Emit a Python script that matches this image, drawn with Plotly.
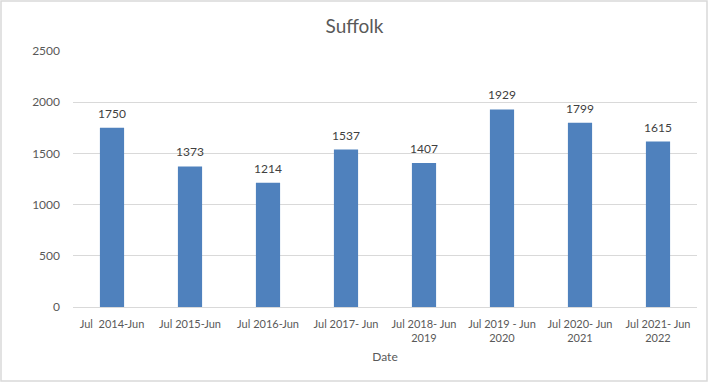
import plotly.graph_objects as go

categories = ["Jul  2014-Jun", "Jul 2015-Jun", "Jul 2016-Jun", "Jul 2017- Jun",
              "Jul 2018- Jun<br>2019", "Jul 2019 - Jun<br>2020", "Jul 2020- Jun<br>2021",
              "Jul 2021- Jun<br>2022"]
values = [1750, 1373, 1214, 1537, 1407, 1929, 1799, 1615]
y_ticks = [0, 500, 1000, 1500, 2000, 2500]

W, H = 709, 382
ml, mr, mt, mb = 73, 12, 51, 75

fig = go.Figure(go.Bar(
    x=categories, y=values,
    marker=dict(color="#4F81BD", line=dict(width=0)),
))

for c, v in zip(categories, values):
    fig.add_annotation(x=c, y=v, text=str(v), showarrow=False, yanchor="bottom",
                       yshift=5, font=dict(size=12, color="#404040"))

pw = W - ml - mr
ph = H - mt - mb
fig.add_shape(type="rect", xref="paper", yref="paper",
              x0=(1 - ml) / pw, x1=(W - ml - 2) / pw,
              y0=-(mb - 1) / ph, y1=1 + (mt - 1) / ph,
              line=dict(color="#D9D9D9", width=1.5), layer="below")

fig.update_layout(
    width=W, height=H,
    margin=dict(l=ml, r=mr, t=mt, b=mb),
    paper_bgcolor="white", plot_bgcolor="white",
    font=dict(family="Lato, Open Sans, sans-serif", color="#595959", size=11),
    title=dict(text="Suffolk", x=0.5, xref="container", xanchor="center",
               y=1 - 26 / H, yanchor="middle",
               font=dict(size=19, color="#595959")),
    bargap=0.69,
    showlegend=False,
    xaxis=dict(title=dict(text="Date", font=dict(size=12, color="#595959"), standoff=9),
               showgrid=False, showline=False, ticks="", tickfont=dict(size=11, color="#595959"),
               tickangle=0, ticklabelstandoff=9),
    yaxis=dict(range=[0, 2500], tickvals=y_ticks, showgrid=True, gridcolor="#D9D9D9",
               gridwidth=1, zeroline=True, zerolinecolor="#D9D9D9", zerolinewidth=1,
               showline=False, ticks="", tickfont=dict(size=12, color="#595959"),
               ticklabelstandoff=12),
)

fig.write_html("out.html")
